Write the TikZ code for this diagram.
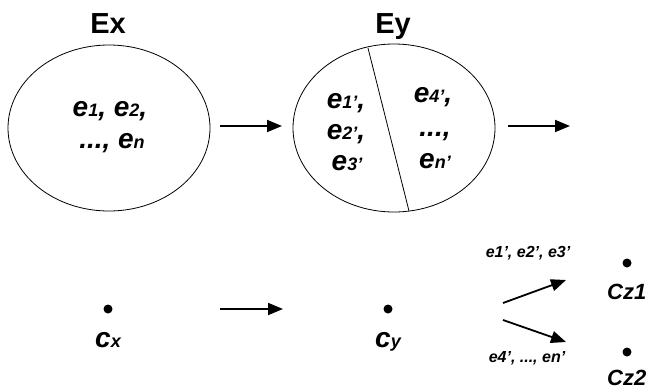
\documentclass[tikz,border=0pt]{standalone}
\usepackage{fontspec}
\setmainfont{Liberation Sans}
\usetikzlibrary{arrows.meta,shapes.geometric}
\newcommand\bigf{\fontsize{28}{32}\selectfont}
\newcommand\smf{\fontsize{18}{21}\selectfont}
\newcommand\sbs[1]{{\smf #1}}
\tikzset{
  setbox/.style={draw, ellipse, line width=0.8pt, inner sep=0pt},
  title/.style={anchor=base, inner sep=0pt, font=\fontsize{29}{32}\selectfont\bfseries},
  elab/.style={anchor=base, inner sep=0pt, font=\bigf\bfseries\itshape},
  slab/.style={anchor=base, inner sep=0pt, font=\fontsize{16}{19}\selectfont\bfseries\itshape},
  czlab/.style={anchor=base west, inner sep=0pt, font=\fontsize{22}{26}\selectfont\bfseries\itshape},
  dot/.style={circle, fill=black, inner sep=0pt, minimum size=9pt},
  arr/.style={line width=1.8pt, -{Triangle[length=15pt,width=12pt]}},
  divider/.style={line width=0.8pt}
}
\begin{document}
\begin{tikzpicture}[x=1pt,y=-1pt]
\useasboundingbox (0,0) rectangle (648,391);
% top row
\node[title] (ext) at (108,33) {Ex};
\node[title] (eyt) at (393,33) {Ey};
\node[setbox, minimum width=202pt, minimum height=166pt] (ex) at (109,128) {};
\node[setbox, minimum width=202pt, minimum height=168pt] (ey) at (394,128) {};
\coordinate (dtop) at (368,48);
\coordinate (dbot) at (409,211);
\draw[divider] (dtop) -- (dbot);
\node[elab] (x1) at (110,116) {e\sbs{1}, e\sbs{2},};
\node[elab] (x2) at (112,148) {..., e\sbs{n}};
\node[elab] (y1) at (346,108) {e\sbs{1'},};
\node[elab] (y2) at (346,139) {e\sbs{2'},};
\node[elab] (y3) at (347,170) {e\sbs{3'}};
\node[elab] (y4) at (433,102) {e\sbs{4'},};
\node[elab] (y5) at (435,136) {...,};
\node[elab] (y6) at (435,168) {e\sbs{n'}};
\coordinate (a1s) at (220,126);
\coordinate (a1e) at (282,126);
\coordinate (a2s) at (508,126);
\coordinate (a2e) at (570,126);
\draw[arr] (a1s) -- (a1e);
\draw[arr] (a2s) -- (a2e);
% bottom row
\node[dot] (cx) at (108,309) {};
\node[dot] (cy) at (388,309) {};
\node[dot] (cz1) at (627,263) {};
\node[dot] (cz2) at (627,352) {};
\node[elab] (cxl) at (108,347) {c\sbs{x}};
\node[elab] (cyl) at (388,347) {c\sbs{y}};
\node[czlab] (cz1l) at (607,299) {Cz1};
\node[czlab] (cz2l) at (607,385) {Cz2};
\coordinate (a3s) at (220,309);
\coordinate (a3e) at (283,309);
\draw[arr] (a3s) -- (a3e);
\coordinate (u1) at (503,303);
\coordinate (u2) at (566,280);
\coordinate (l1) at (503,320);
\coordinate (l2) at (566,342);
\draw[arr] (u1) -- (u2);
\draw[arr] (l1) -- (l2);
\node[slab] (ul) at (528,257) {e1', e2', e3'};
\node[slab] (ll) at (527,362) {e4', ..., en'};
\end{tikzpicture}
\end{document}
